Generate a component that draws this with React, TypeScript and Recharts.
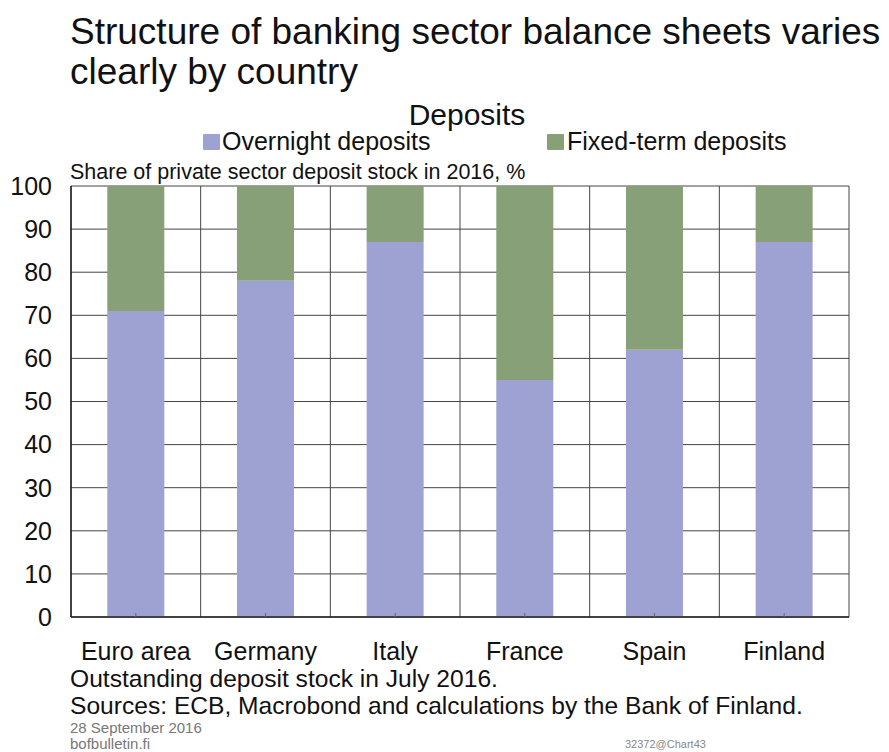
import React from 'react';
import { BarChart, Bar, XAxis, YAxis, CartesianGrid } from 'recharts';

const countries = ['Euro area', 'Germany', 'Italy', 'France', 'Spain', 'Finland'];
const overnight = [71, 78, 87, 55, 62, 87];
const fixedTerm = [29, 22, 13, 45, 38, 13];
const yTicks = [0, 10, 20, 30, 40, 50, 60, 70, 80, 90, 100];

const OVERNIGHT_COLOR = '#9ea2d2';
const FIXED_COLOR = '#87a078';
const GRID_COLOR = '#444';
const FONT = '"Liberation Sans", Arial, sans-serif';

const data = countries.map((name, i) => ({
  name,
  overnight: overnight[i],
  fixedTerm: fixedTerm[i],
}));

const text = (style: React.CSSProperties): React.CSSProperties => ({
  position: 'absolute',
  margin: 0,
  whiteSpace: 'nowrap',
  color: '#111',
  fontFamily: FONT,
  ...style,
});

// vertical grid lines sit on the category boundaries, not the centres
const categoryBoundaries = ({ offset }: any) =>
  Array.from({ length: countries.length + 1 }, (_, k) => offset.left + (k * offset.width) / countries.length);

export default function App() {
  return (
    <div
      style={{
        position: 'absolute',
        left: 0,
        top: 0,
        width: 889,
        height: 752,
        background: '#fff',
        fontFamily: FONT,
        overflow: 'hidden',
      }}
    >
      <div style={text({ left: 70, top: 12, fontSize: 37, lineHeight: '40px' })}>
        Structure of banking sector balance sheets varies
        <br />
        clearly by country
      </div>
      <div style={text({ left: 0, width: 934, top: 98, fontSize: 30, textAlign: 'center' })}>
        Deposits
      </div>
      <div style={text({ left: 203, top: 127, fontSize: 25, display: 'flex', alignItems: 'center' })}>
        <span style={{ display: 'inline-block', width: 17, height: 16, background: OVERNIGHT_COLOR, marginRight: 2, borderRadius: 1 }} />
        Overnight deposits
      </div>
      <div style={text({ left: 547, top: 127, fontSize: 25, display: 'flex', alignItems: 'center' })}>
        <span style={{ display: 'inline-block', width: 17, height: 16, background: FIXED_COLOR, marginRight: 3, borderRadius: 1 }} />
        Fixed-term deposits
      </div>
      <div style={text({ left: 70, top: 160, fontSize: 21.5 })}>
        Share of private sector deposit stock in 2016, %
      </div>

      <div style={{ position: 'absolute', left: 0, top: 0 }}>
        <BarChart
          width={889}
          height={752}
          data={data}
          margin={{ top: 186, right: 40, left: 11, bottom: 95 }}
          barCategoryGap="28%"
        >
          <CartesianGrid stroke={GRID_COLOR} strokeWidth={1} verticalCoordinatesGenerator={categoryBoundaries} />
          <XAxis
            dataKey="name"
            height={40}
            axisLine={{ stroke: '#222', strokeWidth: 1.5 }}
            tickLine={{ stroke: '#666' }}
            tickSize={-4}
            tickMargin={29}
            tick={{ fontSize: 25, fill: '#111', fontFamily: FONT }}
            interval={0}
          />
          <YAxis
            width={60}
            domain={[0, 100]}
            ticks={yTicks}
            axisLine={{ stroke: '#222', strokeWidth: 1.5 }}
            tickLine={false}
            tickSize={0}
            tickMargin={19}
            tick={{ fontSize: 25, fill: '#111', fontFamily: FONT }}
          />
          <Bar dataKey="overnight" stackId="a" fill={OVERNIGHT_COLOR} isAnimationActive={false} />
          <Bar dataKey="fixedTerm" stackId="a" fill={FIXED_COLOR} isAnimationActive={false} />
        </BarChart>
      </div>

      <div style={text({ left: 70, top: 666, fontSize: 24.6, lineHeight: '25px' })}>
        Outstanding deposit stock in July 2016.
      </div>
      <div style={text({ left: 70, top: 693, fontSize: 24.6, lineHeight: '25px' })}>
        Sources: ECB, Macrobond and calculations by the Bank of Finland.
      </div>
      <div style={text({ left: 70, top: 720, fontSize: 15, lineHeight: '15px', color: '#777' })}>28 September 2016</div>
      <div style={text({ left: 70, top: 736, fontSize: 15, lineHeight: '15px', color: '#777' })}>bofbulletin.fi</div>
      <div style={text({ left: 625, top: 739, fontSize: 11, lineHeight: '11px', color: '#888' })}>32372@Chart43</div>
    </div>
  );
}
